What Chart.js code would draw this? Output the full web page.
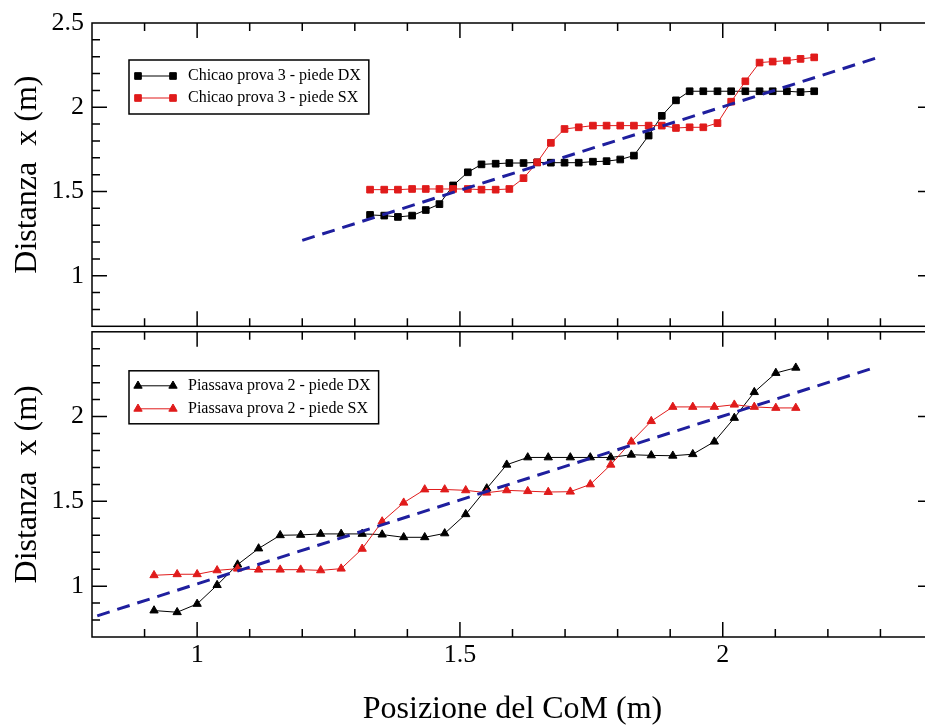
<!DOCTYPE html>
<html>
<head>
<meta charset="utf-8">
<script src="https://cdn.jsdelivr.net/npm/chart.js@4.4.1/dist/chart.umd.min.js"></script>
<style>
html,body{margin:0;padding:0;background:#fff;overflow:hidden;width:925px;height:727px;}
#wrap{position:relative;width:945px;height:727px;}
canvas{position:absolute;left:0;}
#c1{top:0;}
#c2{top:326px;}
</style>
</head>
<body>
<div id="wrap">
<canvas id="c1" width="945" height="332" style="width:945px;height:332px"></canvas>
<canvas id="c2" width="945" height="401" style="width:945px;height:401px"></canvas>
</div>
<script>
// ---------- data ----------
// Top panel: Chicao prova 3
const topX  = [1.329,1.356,1.382,1.409,1.435,1.461,1.487,1.515,1.541,1.568,1.594,1.621,1.647,1.673,1.699,1.726,1.753,1.779,1.805,1.831,1.859,1.884,1.911,1.937,1.963,1.990,2.016,2.043,2.070,2.095,2.122,2.148,2.174];
const topDX = [1.361,1.357,1.349,1.357,1.390,1.425,1.536,1.614,1.661,1.665,1.669,1.669,1.673,1.671,1.671,1.671,1.677,1.680,1.690,1.713,1.832,1.949,2.041,2.095,2.095,2.095,2.095,2.095,2.095,2.095,2.095,2.090,2.095];
const topSX = [1.511,1.511,1.511,1.515,1.515,1.515,1.515,1.515,1.511,1.511,1.515,1.579,1.673,1.789,1.871,1.881,1.891,1.891,1.891,1.891,1.891,1.891,1.877,1.881,1.881,1.906,2.033,2.154,2.265,2.271,2.277,2.287,2.296];
const topFitX = [1.20, 2.29];
const topFitY = [1.21, 2.29];
const topLabels = ['Chicao prova 3 - piede DX', 'Chicao prova 3 - piede SX'];

// Bottom panel: Piassava prova 2
const botX  = [0.918,0.962,1.000,1.038,1.077,1.117,1.158,1.197,1.235,1.274,1.314,1.352,1.393,1.433,1.471,1.511,1.551,1.589,1.629,1.668,1.710,1.748,1.787,1.826,1.864,1.905,1.943,1.984,2.022,2.060,2.101,2.139];
const botDX = [0.856,0.846,0.895,1.006,1.127,1.222,1.300,1.302,1.308,1.308,1.308,1.304,1.288,1.288,1.311,1.424,1.576,1.716,1.759,1.759,1.759,1.759,1.759,1.775,1.771,1.769,1.778,1.852,1.992,2.144,2.257,2.288];
const botSX = [1.064,1.070,1.070,1.093,1.103,1.097,1.097,1.097,1.093,1.103,1.220,1.381,1.492,1.570,1.570,1.565,1.551,1.565,1.560,1.555,1.557,1.600,1.716,1.852,1.973,2.057,2.057,2.057,2.070,2.057,2.051,2.051];
const botFitX = [0.81, 2.29];
const botFitY = [0.825, 2.29];
const botLabels = ['Piassava prova 2 - piede DX', 'Piassava prova 2 - piede SX'];

// Axes
const xTickLabels = [1, 1.5, 2];
const yTickLabelsTop = [1, 1.5, 2, 2.5];
const yTickLabelsBot = [1, 1.5, 2];
const xRange = [0.8, 2.4];
const yRange = [0.7, 2.5];
const xTitle = 'Posizione del CoM (m)';
const yTitle = 'Distanza  x (m)';

// ---------- styling ----------
const SERIF = '"Liberation Serif", "DejaVu Serif", serif';
const BLACK = '#000000';
const RED = '#e01b1b';
const BLUE = '#1f1f9e';

// frame + inward ticks on all four sides
const frameTicks = {
  id: 'frameTicks',
  afterDatasetsDraw(chart) {
    const {ctx, chartArea: a, scales} = chart;
    const x = scales.x, y = scales.y;
    ctx.save();
    ctx.strokeStyle = BLACK;
    ctx.lineWidth = 1.5;
    ctx.strokeRect(a.left, a.top, a.right - a.left, a.bottom - a.top);
    ctx.beginPath();
    const MAJ = 15, MIN = 8;
    for (let k = Math.round(x.min * 10) + 1; k < Math.round(x.max * 10); k++) {
      const px = x.getPixelForValue(k / 10);
      const len = (k % 5 === 0) ? MAJ : MIN;
      ctx.moveTo(px, a.bottom); ctx.lineTo(px, a.bottom - len);
      ctx.moveTo(px, a.top); ctx.lineTo(px, a.top + len);
    }
    for (let k = Math.round(y.min * 10) + 1; k < Math.round(y.max * 10); k++) {
      const py = y.getPixelForValue(k / 10);
      const len = (k % 5 === 0) ? MAJ : MIN;
      ctx.moveTo(a.left, py); ctx.lineTo(a.left + len, py);
      ctx.moveTo(a.right, py); ctx.lineTo(a.right - len, py);
    }
    ctx.stroke();
    ctx.restore();
  }
};

function drawMarker(ctx, style, cx, cy, r, color) {
  ctx.fillStyle = color;
  ctx.strokeStyle = color;
  ctx.lineWidth = 1;
  ctx.beginPath();
  if (style === 'triangle') {
    ctx.moveTo(cx, cy - r);
    ctx.lineTo(cx + r * Math.sin(2 * Math.PI / 3), cy - r * Math.cos(2 * Math.PI / 3));
    ctx.lineTo(cx + r * Math.sin(4 * Math.PI / 3), cy - r * Math.cos(4 * Math.PI / 3));
    ctx.closePath();
  } else {
    const s = r * Math.SQRT1_2;
    ctx.rect(cx - s, cy - s, 2 * s, 2 * s);
  }
  ctx.fill();
  ctx.stroke();
}

// boxed legend inside the plot
const boxLegend = {
  id: 'boxLegend',
  afterDraw(chart, args, opts) {
    const {ctx, chartArea: a} = chart;
    const items = chart.data.datasets.filter(d => d.label).sort((p, q) => p.legendIndex - q.legendIndex);
    ctx.save();
    ctx.font = '16px ' + SERIF;
    let tw = 0;
    items.forEach(d => { tw = Math.max(tw, ctx.measureText(d.label).width); });
    const bx = a.left + opts.dx, by = a.top + opts.dy;
    const bw = 59 + tw + 8, bh = opts.h;
    ctx.fillStyle = '#fff';
    ctx.fillRect(bx, by, bw, bh);
    ctx.strokeStyle = BLACK;
    ctx.lineWidth = 1.5;
    ctx.strokeRect(bx, by, bw, bh);
    items.forEach((d, i) => {
      const ry = by + opts.rows[i];
      ctx.strokeStyle = d.borderColor;
      ctx.lineWidth = 1;
      ctx.beginPath();
      ctx.moveTo(bx + 9, ry); ctx.lineTo(bx + 44, ry);
      ctx.stroke();
      drawMarker(ctx, d.pointStyle, bx + 9, ry, d.pointRadius, d.borderColor);
      drawMarker(ctx, d.pointStyle, bx + 44, ry, d.pointRadius, d.borderColor);
      ctx.fillStyle = BLACK;
      ctx.textBaseline = 'middle';
      ctx.textAlign = 'left';
      ctx.font = '16px ' + SERIF;
      ctx.fillText(d.label, bx + 59, ry);
    });
    ctx.restore();
  }
};

function pts(xs, ys) { return xs.map((v, i) => ({x: v, y: ys[i]})); }

function makeChart(id, cfg) {
  const tickFont = {family: SERIF, size: 26};
  const titleFont = {family: SERIF, size: 32, lineHeight: 1};
  return new Chart(document.getElementById(id), {
    type: 'line',
    data: {
      datasets: [
        {label: '', data: pts(cfg.fitX, cfg.fitY), borderColor: BLUE, borderWidth: 3, borderDash: [13, 8],
         pointRadius: 0, fill: false, order: 0},
        {label: cfg.labels[1], legendIndex: 1, data: pts(cfg.x, cfg.sx), borderColor: RED, backgroundColor: RED,
         borderWidth: 1, pointStyle: cfg.pointStyle, pointRadius: cfg.r, pointBorderWidth: 1, fill: false, order: 1},
        {label: cfg.labels[0], legendIndex: 0, data: pts(cfg.x, cfg.dx), borderColor: BLACK, backgroundColor: BLACK,
         borderWidth: 1, pointStyle: cfg.pointStyle, pointRadius: cfg.r, pointBorderWidth: 1, fill: false, order: 2}
      ]
    },
    options: {
      responsive: false,
      animation: false,
      devicePixelRatio: 1,
      layout: {padding: cfg.padding},
      elements: {line: {tension: 0}},
      plugins: {
        legend: {display: false},
        tooltip: {enabled: false},
        boxLegend: cfg.legend
      },
      scales: {
        x: {
          type: 'linear', min: xRange[0], max: xRange[1], display: cfg.showX,
          grid: {display: false, drawTicks: false}, border: {display: false},
          afterBuildTicks: s => { s.ticks = xTickLabels.map(v => ({value: v})); },
          afterFit: s => { if (cfg.showX) s.height = 90; s.paddingLeft = 0; s.paddingRight = 0; },
          ticks: {font: tickFont, color: BLACK, padding: 3, maxRotation: 0, callback: v => String(v)},
          title: {display: true, text: xTitle, font: titleFont, color: BLACK, padding: {top: 0, bottom: 1}}
        },
        y: {
          type: 'linear', min: yRange[0], max: yRange[1],
          grid: {display: false, drawTicks: false}, border: {display: false},
          afterBuildTicks: s => { s.ticks = cfg.yTicks.map(v => ({value: v})); },
          afterFit: s => { s.width = 92; s.paddingTop = 0; s.paddingBottom = 0; },
          ticks: {font: tickFont, color: BLACK, padding: 8, callback: v => String(v)},
          title: {display: true, text: yTitle, font: titleFont, color: BLACK, padding: {top: 12, bottom: 0}}
        }
      }
    },
    plugins: [frameTicks, boxLegend]
  });
}

makeChart('c1', {
  x: topX, dx: topDX, sx: topSX, fitX: topFitX, fitY: topFitY, labels: topLabels,
  yTicks: yTickLabelsTop, showX: false, pointStyle: 'rect', r: 4.7,
  padding: {left: 0, right: 12, top: 23, bottom: 3},
  legend: {dx: 37, dy: 37, h: 54, rows: [16, 38]}
});
makeChart('c2', {
  x: botX, dx: botDX, sx: botSX, fitX: botFitX, fitY: botFitY, labels: botLabels,
  yTicks: yTickLabelsBot, showX: true, pointStyle: 'triangle', r: 4.8,
  padding: {left: 0, right: 12, top: 3, bottom: 0},
  legend: {dx: 37, dy: 39, h: 53, rows: [15, 38]}
});
</script>
</body>
</html>
